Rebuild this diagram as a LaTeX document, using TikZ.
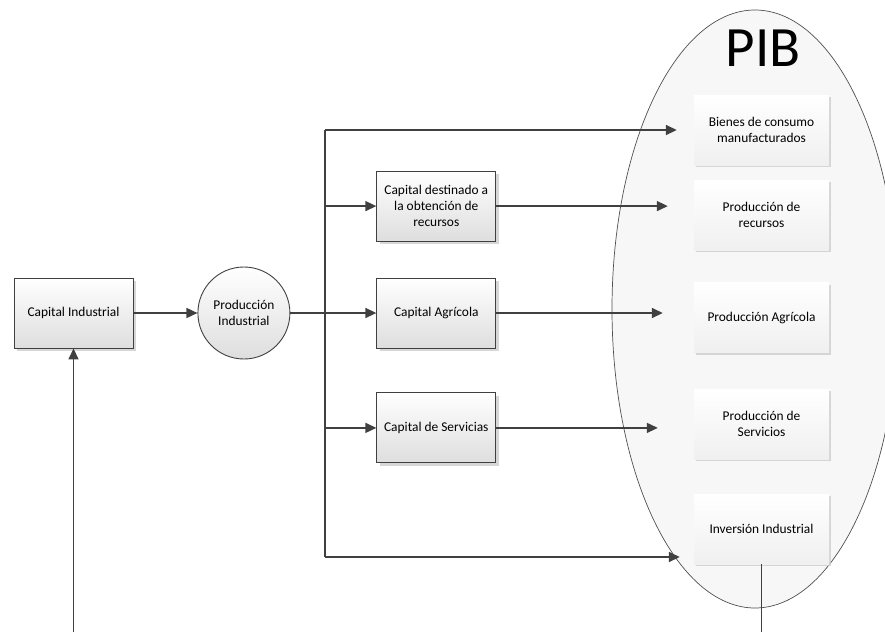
\documentclass[tikz,border=0pt]{standalone}
\usepackage{fontspec}
\setmainfont{Carlito}
\usepackage{tikz}
\usetikzlibrary{positioning, arrows.meta, shapes.geometric, shadows}
\definecolor{linegray}{RGB}{64,64,64}
\definecolor{edgegray}{RGB}{80,80,80}
\definecolor{fillpale}{RGB}{247,247,247}
\definecolor{shadegray}{RGB}{222,222,222}
\definecolor{shadowgray}{RGB}{205,205,205}
\tikzset{
  capbox/.style={
    draw=linegray, line width=0.9pt, top color=white, bottom color=shadegray,
    minimum width=119pt, minimum height=70pt, align=center, inner sep=3pt,
    drop shadow={shadow xshift=3pt, shadow yshift=-3pt, fill=shadowgray, opacity=0.8}
  },
  prodbox/.style={
    top color=white, bottom color=gray!12,
    minimum width=135pt, minimum height=70pt, align=center, inner sep=3pt,
    drop shadow={shadow xshift=2pt, shadow yshift=-2pt, fill=shadowgray, opacity=0.8}
  },
  flow/.style={-{Triangle[length=11pt, width=10pt]}, line width=1.5pt, linegray},
  link/.style={line width=1.5pt, linegray}
}

\begin{document}
\begin{tikzpicture}[x=1pt, y=-1pt, node distance=36pt and 64pt, font=\fontsize{13.4}{16}\selectfont]
  \useasboundingbox (0,0) rectangle (885,632);
  % PIB
  \node[ellipse, draw=edgegray, line width=0.7pt, fill=fillpale, minimum width=286pt, minimum height=598pt] (pib) at (755,309) {};
  \node[font=\fontsize{57}{57}\selectfont] (pibtxt) at (763,48) {PIB};
  \node[prodbox] (bienes) at (761.5,130) {Bienes de consumo\\manufacturados};
  \node[prodbox] (prodrec) at (761.5,215) {Producción de\\recursos};
  \node[prodbox] (prodagr) at (761.5,317.5) {Producción Agrícola};
  \node[prodbox] (prodser) at (761.5,424) {Producción de\\Servicios};
  \node[prodbox] (invind) at (761.5,529) {Inversión Industrial};

  % capitales
  \node[capbox] (capind) at (73.5,313) {Capital Industrial};
  \node[circle, draw=linegray, line width=0.9pt, top color=white, bottom color=shadegray, minimum size=92pt, align=center, inner sep=0pt, right=of capind] (prodind) {Producción\\Industrial};
  \node[capbox, right=86pt of prodind] (capagr) {Capital Agrícola};
  \node[capbox, above=of capagr] (caprec) {Capital destinado a\\la obtención de\\recursos};
  \node[capbox, below=44pt of capagr] (capser) {Capital de Servicias};

  \coordinate (bustop) at (325,130);
  \coordinate (busbot) at (325,557);
  \coordinate (outL) at (capind.south |- 0,632);
  \coordinate (outR) at (invind.south |- 0,632);

  \draw[flow] (capind) -- (prodind);
  \draw[flow] (prodind) -- (capagr);
  \draw[link] (bustop) -- (busbot);
  \draw[flow] (caprec.west -| bustop) -- (caprec);
  \draw[flow] (capser.west -| bustop) -- (capser);
  \draw[flow, shorten >=17pt] (bustop) -- (bustop -| bienes.west);
  \draw[flow, shorten >=14pt] (busbot) -- (busbot -| invind.west);
  \draw[flow, shorten >=26pt] (caprec) -- (caprec -| prodrec.west);
  \draw[flow, shorten >=31pt] (capagr) -- (capagr -| prodagr.west);
  \draw[flow, shorten >=36pt] (capser) -- (capser -| prodser.west);
  \draw[flow] (outL) -- (capind);
  \draw[link] (invind) -- (outR);
\end{tikzpicture}
\end{document}
